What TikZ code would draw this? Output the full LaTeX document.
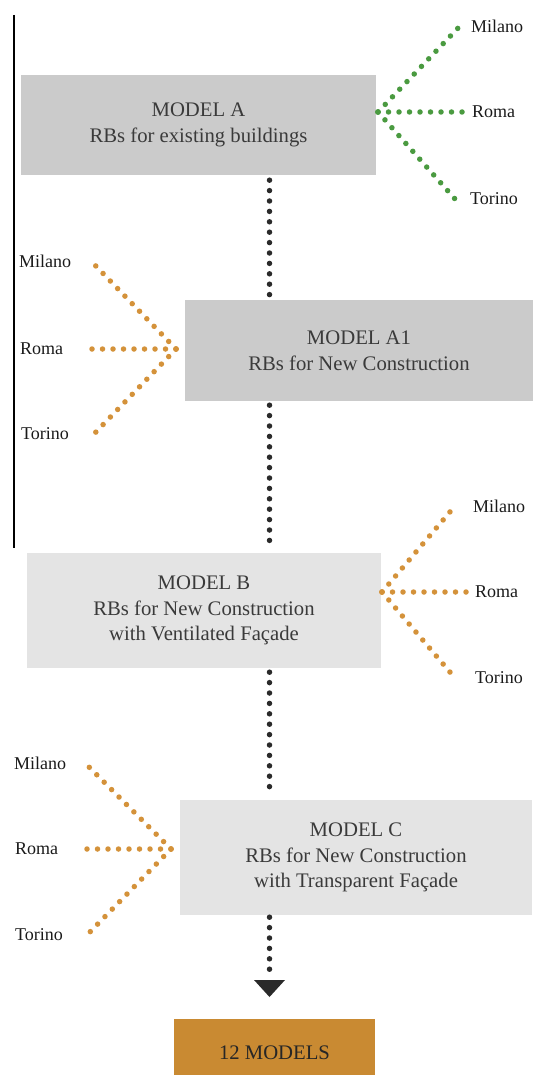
\documentclass[tikz,border=0pt]{standalone}
\usepackage{fontspec}
\setmainfont{Liberation Serif}
\definecolor{boxdark}{HTML}{CBCBCB}
\definecolor{boxlight}{HTML}{E4E4E4}
\definecolor{boxorange}{HTML}{C98A32}
\definecolor{dotgreen}{HTML}{4A9A40}
\definecolor{dotorange}{HTML}{D4923A}
\definecolor{dotblack}{HTML}{2A2A2A}
\definecolor{txt}{HTML}{3A3A3A}
\definecolor{lbl}{HTML}{1A1A1A}
\begin{document}
\begin{tikzpicture}[x=1pt,y=-1pt,
  modelbox/.style={fill=#1, inner sep=0pt, text=txt, align=center,
    font=\fontsize{20.7}{25.5}\selectfont},
  citylabel/.style={inner sep=0pt, text=lbl, font=\fontsize{18}{20}\selectfont},
  branch/.style={draw=#1, line width=5.5pt, line cap=round, dash pattern=on 0pt off 10.5pt},
  spine/.style={draw=dotblack, line width=5.5pt, line cap=round, dash pattern=on 0pt off 10.4pt}]
\useasboundingbox (0,0) rectangle (536,1075);
\clip (0,0) rectangle (536,1075);

% left rule
\draw[line width=1.6pt, black] (13.7,15) -- (13.7,548);

% boxes
\node[modelbox=boxdark, minimum width=355pt, minimum height=100pt] (A) at (198.5,125)
  {MODEL A\\RBs for existing buildings};
\node[modelbox=boxdark, minimum width=348pt, minimum height=101pt] (A1) at (359,350.5)
  {MODEL A1\\RBs for New Construction};
\node[modelbox=boxlight, minimum width=354pt, minimum height=115pt] (B) at (204,610.5)
  {MODEL B\\RBs for New Construction\\with Ventilated Façade};
\node[modelbox=boxlight, minimum width=352pt, minimum height=115pt] (C) at (356,857.5)
  {MODEL C\\RBs for New Construction\\with Transparent Façade};
\node[modelbox=boxorange, minimum width=201pt, minimum height=68pt, text=black!85] (M12) at (274.5,1053)
  {12 MODELS};

% spine
\coordinate (sp) at (269.5,0);
\coordinate (tip) at (269.5,980);
\draw[spine, shorten <=5pt, shorten >=5pt] (A.south -| sp) -- (A1.north -| sp);
\draw[spine, shorten <=4pt, shorten >=4pt] (A1.south -| sp) -- (B.north -| sp);
\draw[spine, shorten <=4pt, shorten >=3pt] (B.south -| sp) -- (C.north -| sp);
\draw[spine, shorten <=2pt, shorten >=5pt] (C.south -| sp) -- (tip);
\fill[dotblack] ([xshift=-15.5pt]tip) -- ([xshift=15.5pt]tip) -- ([yshift=-17pt]tip) -- cycle;

% Model A branches (green)
\coordinate (oA) at (378,112);
\coordinate (aM) at (460,26);
\coordinate (aR) at (467,112);
\coordinate (aT) at (455,199);
\node[citylabel, anchor=west] (aMl) at (471,26) {Milano};
\node[citylabel, anchor=west] (aRl) at (472,112) {Roma};
\node[citylabel, anchor=west] (aTl) at (470,199) {Torino};
\draw[branch=dotgreen] (oA) -- (aM);
\draw[branch=dotgreen] (oA) -- (aR);
\draw[branch=dotgreen] (oA) -- (aT);

% Model A1 branches (orange, left)
\coordinate (oA1) at (176,349);
\coordinate (a1M) at (91,261);
\coordinate (a1R) at (91,349);
\coordinate (a1T) at (94,434);
\node[citylabel, anchor=west] (a1Ml) at (19,261) {Milano};
\node[citylabel, anchor=west] (a1Rl) at (20,349) {Roma};
\node[citylabel, anchor=west] (a1Tl) at (21,434) {Torino};
\draw[branch=dotorange] (oA1) -- (a1M);
\draw[branch=dotorange] (oA1) -- (a1R);
\draw[branch=dotorange] (oA1) -- (a1T);

% Model B branches (orange, right)
\coordinate (oB) at (382,592);
\coordinate (bM) at (455,506);
\coordinate (bR) at (467,592);
\coordinate (bT) at (455,678);
\node[citylabel, anchor=west] (bMl) at (473,506) {Milano};
\node[citylabel, anchor=west] (bRl) at (475,592) {Roma};
\node[citylabel, anchor=west] (bTl) at (475,678) {Torino};
\draw[branch=dotorange] (oB) -- (bM);
\draw[branch=dotorange] (oB) -- (bR);
\draw[branch=dotorange] (oB) -- (bT);

% Model C branches (orange, left)
\coordinate (oC) at (171,849);
\coordinate (cM) at (85,763);
\coordinate (cR) at (85,849);
\coordinate (cT) at (87,935);
\node[citylabel, anchor=west] (cMl) at (14,763) {Milano};
\node[citylabel, anchor=west] (cRl) at (15,849) {Roma};
\node[citylabel, anchor=west] (cTl) at (15,935) {Torino};
\draw[branch=dotorange] (oC) -- (cM);
\draw[branch=dotorange] (oC) -- (cR);
\draw[branch=dotorange] (oC) -- (cT);
\end{tikzpicture}
\end{document}
